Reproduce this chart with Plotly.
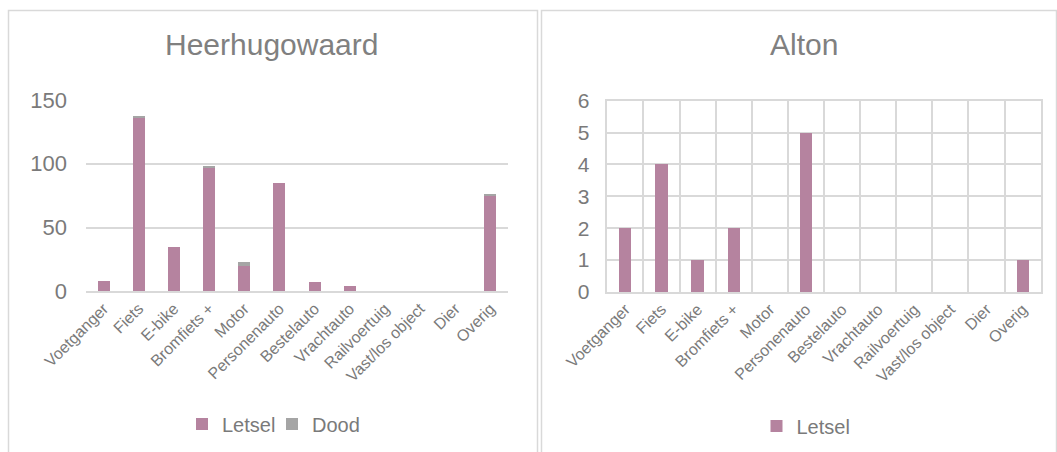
import plotly.graph_objects as go

# Categories of road users / vehicle types
categories = ["Voetganger", "Fiets", "E-bike", "Bromfiets +", "Motor", "Personenauto",
              "Bestelauto", "Vrachtauto", "Railvoertuig", "Vast/los object", "Dier", "Overig"]

# Heerhugowaard casualties
hhw_letsel = [8, 136, 35, 97, 20, 85, 7, 4, 0, 0, 0, 75]
hhw_dood = [0, 1, 0, 1, 3, 0, 0, 0, 0, 0, 0, 1]

# Alton casualties
alton_letsel = [2, 4, 1, 2, 0, 5, 0, 0, 0, 0, 0, 1]

# Axis ticks
hhw_ticks = [0, 50, 100, 150]
alton_ticks = [0, 1, 2, 3, 4, 5, 6]

W, H = 1057, 452
FONT = "Liberation Sans, Arial, sans-serif"
TXT = "#7a7a7a"
GRID = "#d9d9d9"
C_LETSEL = "#b5839f"
C_DOOD = "#a5a5a5"


def px_x(x):
    return x / W


def px_y(y):
    return 1 - y / H


fig = go.Figure()

fig.add_trace(go.Bar(x=categories, y=hhw_letsel, name="Letsel", marker_color=C_LETSEL,
                     marker_line_width=0, xaxis="x", yaxis="y", legend="legend"))
fig.add_trace(go.Bar(x=categories, y=hhw_dood, name="Dood", marker_color=C_DOOD,
                     marker_line_width=0, xaxis="x", yaxis="y", legend="legend"))
fig.add_trace(go.Bar(x=categories, y=alton_letsel, name="Letsel", marker_color=C_LETSEL,
                     marker_line_width=0, xaxis="x2", yaxis="y2", legend="legend2"))

tickfont = dict(family=FONT, size=16, color=TXT)

fig.update_layout(
    width=W, height=H,
    margin=dict(l=0, r=0, t=0, b=0, autoexpand=False),
    paper_bgcolor="white", plot_bgcolor="white",
    barmode="stack", bargap=0.66,
    font=dict(family=FONT, color=TXT),
    xaxis=dict(domain=[px_x(86), px_x(508)], anchor="y", type="category",
               tickangle=-45, tickfont=tickfont, showgrid=False, automargin=False,
               showline=True, linecolor=GRID, linewidth=1.5, ticks=""),
    yaxis=dict(domain=[px_y(291.3), px_y(100)], anchor="x", range=[0, 150],
               tickvals=hhw_ticks, tickfont=dict(family=FONT, size=22, color=TXT),
               showgrid=True, gridcolor=GRID, gridwidth=1.5, zeroline=False,
               automargin=False, showline=False, ticks="", ticklabelstandoff=18),
    xaxis2=dict(domain=[px_x(607.3), px_x(1040.7)], anchor="y2", type="category",
                tickangle=-45, tickfont=tickfont, showgrid=True, gridcolor=GRID,
                gridwidth=1.5, tickson="boundaries", showline=True, mirror=True,
                automargin=False, linecolor=GRID, linewidth=1.5, ticks=""),
    yaxis2=dict(domain=[px_y(292), px_y(100.7)], anchor="x2", range=[0, 6],
                tickvals=alton_ticks, tickfont=dict(family=FONT, size=21, color=TXT),
                showgrid=True, gridcolor=GRID, gridwidth=1.5, zeroline=False,
                automargin=False, showline=True, mirror=True, linecolor=GRID,
                linewidth=1.5, ticks="", ticklabelstandoff=12),
    legend=dict(orientation="h", x=px_x(272), y=px_y(424), xanchor="center",
                yanchor="middle", font=dict(family=FONT, size=20, color=TXT),
                itemwidth=30, entrywidth=45, traceorder="normal",
                bgcolor="rgba(0,0,0,0)"),
    legend2=dict(orientation="h", x=px_x(806), y=px_y(426), xanchor="center",
                 yanchor="middle", font=dict(family=FONT, size=20, color=TXT),
                 itemwidth=30, bgcolor="rgba(0,0,0,0)"),
    annotations=[
        dict(text="Heerhugowaard", x=px_x(271.5), y=px_y(45), xref="paper", yref="paper",
             xanchor="center", yanchor="middle", showarrow=False,
             font=dict(family=FONT, size=30, color="#808080")),
        dict(text="Alton", x=px_x(804), y=px_y(45), xref="paper", yref="paper",
             xanchor="center", yanchor="middle", showarrow=False,
             font=dict(family=FONT, size=30, color="#808080")),
    ],
    shapes=[
        dict(type="rect", xref="paper", yref="paper", x0=px_x(8.5), x1=px_x(537.5),
             y0=px_y(470), y1=px_y(10.5), line=dict(color=GRID, width=1.5), layer="below"),
        dict(type="rect", xref="paper", yref="paper", x0=px_x(541.5), x1=px_x(1056.5),
             y0=px_y(470), y1=px_y(10.5), line=dict(color=GRID, width=1.5), layer="below"),
    ],
)

fig.write_html("out.html")
